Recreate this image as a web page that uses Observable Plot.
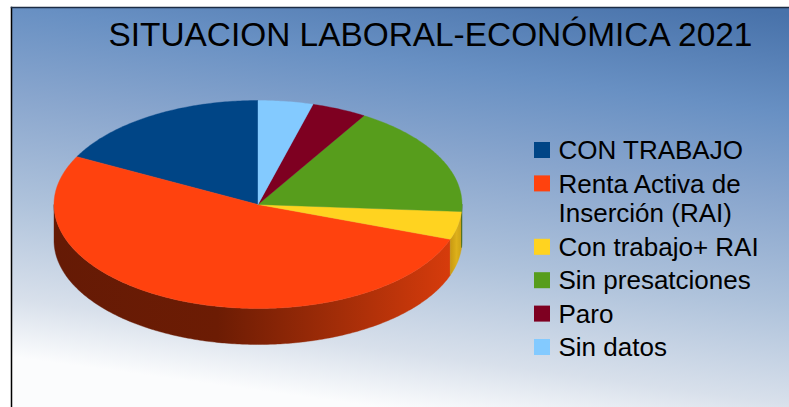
<!DOCTYPE html>
<html>
<head>
<meta charset="utf-8">
<style>html,body{margin:0;padding:0;background:#fff}svg{display:block}</style>
<script src="https://cdn.jsdelivr.net/npm/d3@7"></script>
<script src="https://cdn.jsdelivr.net/npm/@observablehq/plot@0.6"></script>
</head>
<body>
<script>
const chartTitle = "SITUACION LABORAL-ECONÓMICA 2021";
const categories = ["CON TRABAJO", "Renta Activa de\nInserción (RAI)", "Con trabajo+ RAI", "Sin presatciones", "Paro", "Sin datos"];
const values = [4, 12, 1, 4, 1, 1];
const colors = ["#004586", "#ff420e", "#ffd320", "#579d1c", "#7e0021", "#83caff"];
const wallColors = ["#00284e", "url(#wallRed)", "url(#wallYellow)", "#33600f", "#4a0013", "#4c7a9c"];

// layout of the tilted pie, in page pixels
const W = 789, H = 407, cx = 257.5, cy = 204, rx = 204, ry = 104, depth = 36;
const total = d3.sum(values);

// ellipse point for angle t (radians clockwise from the top)
const pt = (t, drop = 0) => [cx + rx * Math.sin(t), cy - ry * Math.cos(t) + drop];

// slices run counter-clockwise from the top, in legend order
let acc = 0;
const slices = categories.map((name, i) => {
  const a1 = -acc / total * 2 * Math.PI;
  acc += values[i];
  const a0 = -acc / total * 2 * Math.PI;
  return {name, i, a0, a1};
});

const arcPts = (a0, a1, drop = 0) => {
  const n = Math.max(2, Math.ceil((a1 - a0) * 80));
  return d3.range(n + 1).map(k => pt(a0 + (a1 - a0) * k / n, drop));
};

const topPolys = slices.flatMap(s =>
  [[cx, cy], ...arcPts(s.a0, s.a1), [cx, cy]].map(([x, y]) => ({x, y, i: s.i})));

// front-facing wall: the part of each slice whose arc lies below the widest points
const wallPolys = slices.flatMap(s => {
  const norm = t => ((t % (2 * Math.PI)) + 2 * Math.PI) % (2 * Math.PI);
  const start = norm(s.a0);
  const end = start + (s.a1 - s.a0);
  const lo = Math.max(start, Math.PI / 2), hi = Math.min(end, 3 * Math.PI / 2);
  if (hi <= lo) return [];
  const arc = [...arcPts(lo, hi), ...arcPts(lo, hi, depth).reverse()];
  return [...arc, arc[0]].map(([x, y]) => ({x, y, i: s.i}));
});

// legend rows: line count of each label sets its height
const rowH = 33.4, lineH = 30, legendTop = 150;
let ly = legendTop;
const legend = categories.map((name, i) => {
  const lines = name.split("\n").length;
  const row = {name, i, y: ly, textY: ly - 1 + (lines - 1) * lineH / 2};
  ly += rowH + (lines - 1) * lineH;
  return row;
});

function defs() {
  const svg = d3.create("svg:defs");
  const grad = (id, x1, y1, x2, y2, stops) => {
    const g = svg.append("linearGradient").attr("id", id)
      .attr("gradientUnits", "userSpaceOnUse")
      .attr("x1", x1).attr("y1", y1).attr("x2", x2).attr("y2", y2);
    stops.forEach(([o, c]) => g.append("stop").attr("offset", o).attr("stop-color", c));
  };
  grad("bg", 465, -30, 405, 410, [[0, "#4872aa"], [0.22, "#6890c3"], [0.41, "#88a5cd"], [0.65, "#aec2db"], [0.87, "#d8e0eb"], [1, "#fbfcfd"]]);
  grad("wallRed", 53, 0, 462, 0, [[0, "#651a05"], [0.4, "#6c1c04"], [0.7, "#a32d08"], [1, "#dc3d0c"]]);
  grad("wallYellow", 450, 0, 462, 0, [[0, "#c99a12"], [0.5, "#ddb01a"], [1, "#c9a016"]]);
  return svg.node();
}

const chart = Plot.plot({
  width: W, height: H,
  marginLeft: 11, marginTop: 7, marginRight: 0, marginBottom: 0,
  x: {domain: [11, W], axis: null},
  y: {domain: [7, H], reverse: true, axis: null},
  style: {background: "transparent", fontFamily: "'Liberation Sans', Arial, sans-serif"},
  marks: [
    defs,
    Plot.frame({fill: "url(#bg)", stroke: "none"}),
    Plot.frame({anchor: "left", stroke: "#000", strokeWidth: 1.5}),
    Plot.frame({anchor: "top", stroke: "#1c2c44", strokeWidth: 1.5}),
    Plot.line(wallPolys, {x: "x", y: "y", z: "i", curve: "linear", fill: d => wallColors[d.i], stroke: d => wallColors[d.i], strokeWidth: 0.4}),
    Plot.line(topPolys, {x: "x", y: "y", z: "i", curve: "linear", fill: d => colors[d.i], stroke: d => colors[d.i], strokeWidth: 0.4}),
    Plot.text([chartTitle], {x: 108, y: 35, text: d => d, fontSize: 33.4, textAnchor: "start", fill: "#000", lineAnchor: "middle"}),
    Plot.rect(legend, {x1: 534, x2: 550, y1: d => d.y - 8, y2: d => d.y + 8, fill: d => colors[d.i]}),
    Plot.text(legend, {x: 558, y: "textY", text: "name", fontSize: 26, textAnchor: "start", fill: "#000", lineAnchor: "middle", lineHeight: 1.15})
  ]
});
document.body.appendChild(chart);
</script>
</body>
</html>
